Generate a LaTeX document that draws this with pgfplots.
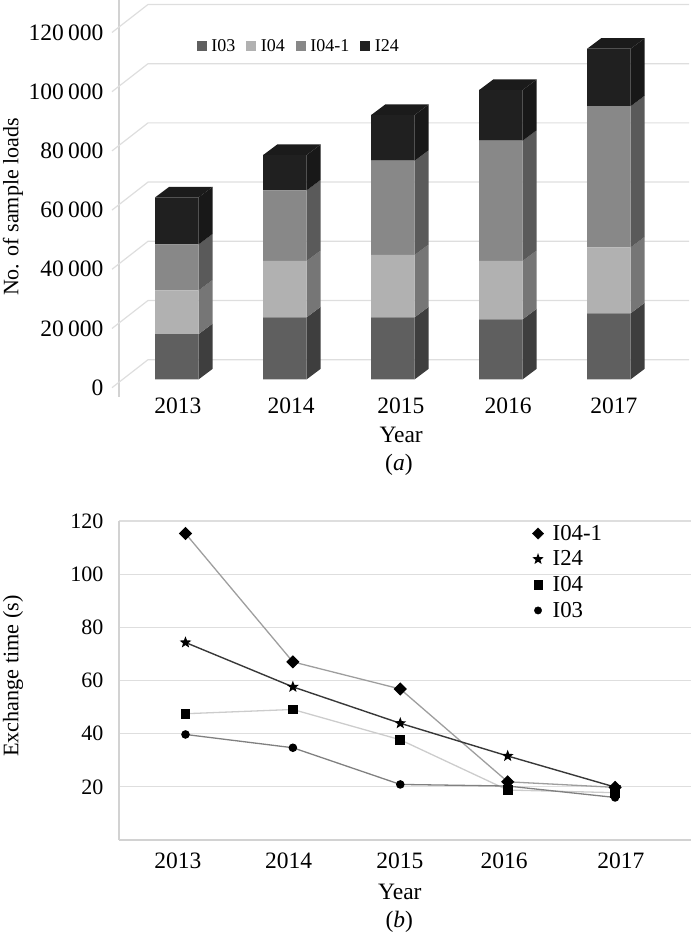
\documentclass[border=0pt]{standalone}
\usepackage{pgfplots}
\pgfplotsset{compat=1.18}
\usepackage{fontspec}
\setmainfont{Liberation Serif}
\usetikzlibrary{plotmarks}
\definecolor{gridc}{HTML}{DEDEDE}
\definecolor{axc}{HTML}{D2D2D2}
\definecolor{fa}{HTML}{5F5F5F}\definecolor{sa}{HTML}{3E3E3E}
\definecolor{fb}{HTML}{B1B1B1}\definecolor{sb}{HTML}{767676}
\definecolor{fc}{HTML}{888888}\definecolor{sc}{HTML}{5A5A5A}
\definecolor{fd}{HTML}{202020}\definecolor{sd}{HTML}{181818}
\definecolor{td}{HTML}{1B1B1B}
\pgfdeclareplotmark{fstar}{%
  \pgfpathmoveto{\pgfpointpolar{90}{\pgfplotmarksize}}%
  \pgfpathlineto{\pgfpointpolar{126}{0.42\pgfplotmarksize}}%
  \pgfpathlineto{\pgfpointpolar{162}{\pgfplotmarksize}}%
  \pgfpathlineto{\pgfpointpolar{198}{0.42\pgfplotmarksize}}%
  \pgfpathlineto{\pgfpointpolar{234}{\pgfplotmarksize}}%
  \pgfpathlineto{\pgfpointpolar{270}{0.42\pgfplotmarksize}}%
  \pgfpathlineto{\pgfpointpolar{306}{\pgfplotmarksize}}%
  \pgfpathlineto{\pgfpointpolar{342}{0.42\pgfplotmarksize}}%
  \pgfpathlineto{\pgfpointpolar{18}{\pgfplotmarksize}}%
  \pgfpathlineto{\pgfpointpolar{54}{0.42\pgfplotmarksize}}%
  \pgfpathclose\pgfusepathqfill}
% one side face: year, lower value, upper value, colour
\newcommand\sideface[4]{%
  \edef\xa{\fpeval{#1+0.2014}}\edef\xb{\fpeval{#1+0.2014+0.1296}}%
  \edef\ya{\fpeval{#2+3547}}\edef\yb{\fpeval{#3+3547}}%
  \addplot[fill=#4,draw=none,forget plot] coordinates {(\xa,#2)(\xa,#3)(\xb,\yb)(\xb,\ya)} -- cycle;}
\newcommand\barfaces[5]{%
  \edef\ca{#2}\edef\cb{\fpeval{#2+#3}}\edef\cc{\fpeval{#2+#3+#4}}\edef\cd{\fpeval{#2+#3+#4+#5}}%
  \sideface{#1}{0}{\ca}{sa}\sideface{#1}{\ca}{\cb}{sb}\sideface{#1}{\cb}{\cc}{sc}\sideface{#1}{\cc}{\cd}{sd}%
  \edef\xl{\fpeval{#1-0.2014}}\edef\xr{\fpeval{#1+0.2014}}%
  \edef\xL{\fpeval{#1-0.2014+0.1296}}\edef\xR{\fpeval{#1+0.2014+0.1296}}\edef\yt{\fpeval{\cd+3547}}%
  \addplot[fill=td,draw=none,forget plot] coordinates {(\xl,\cd)(\xr,\cd)(\xR,\yt)(\xL,\yt)} -- cycle;}
\newcommand\gridrow[1]{%
  \edef\yb{\fpeval{#1+9459}}%
  \addplot[gridc,line width=1.2pt,forget plot] coordinates {(2012.398,#1)(2012.7315,\yb)(2017.741,\yb)};}
\pgfplotsset{
  panel/.style={scale only axis,clip=false},
  hidden/.style={panel,hide axis,at={(119pt,536.3pt)},anchor=south west,width=570pt,height=396.7pt,
    xmin=2012.463,xmax=2017.741,ymin=-5878,ymax=128142},
}
\begin{document}
\begin{tikzpicture}
\path[use as bounding box] (0pt,0pt) rectangle (692pt,933pt);
% panel (a): wall, grid, labels
\begin{axis}[panel,at={(119pt,536.3pt)},anchor=south west,width=570pt,height=396.7pt,
  xmin=2012.463,xmax=2017.741,ymin=-3041,ymax=130980,
  axis x line*=bottom,axis y line*=left,
  x axis line style={draw=none},
  y axis line style={draw=axc,line width=1.3pt,-},
  xtick={2013.009,2014.056,2015.074,2016.065,2017.046},
  xticklabels={2013,2014,2015,2016,2017},
  ytick={0,20000,40000,60000,80000,100000,120000},
  major tick length=0pt,
  scaled y ticks=false,
  /pgf/number format/assume math mode=true,
  /pgf/number format/fixed,
  /pgf/number format/1000 sep={\hspace{0.19em}},
  tick label style={font=\fontsize{23.5}{28}\selectfont},
  yticklabel style={xshift=-12pt},
  xticklabel style={yshift=2pt},
  xlabel={Year},ylabel={No. of sample loads},
  every axis x label/.style={at={(axis description cs:0.495,-0.0965)},anchor=center,font=\fontsize{23.5}{28}\selectfont},
  every axis y label/.style={at={(axis description cs:-0.186,0.478)},rotate=90,anchor=center,font=\fontsize{22}{26}\selectfont},
]
\gridrow{0}\gridrow{20000}\gridrow{40000}\gridrow{60000}\gridrow{80000}\gridrow{100000}\gridrow{120000}
\node[font=\fontsize{23.5}{28}\selectfont] at (axis description cs:0.491,-0.172) {(\textit{a})};
\end{axis}
% panel (a): side and top faces
\begin{axis}[hidden]
\barfaces{2013}{15300}{14770}{15530}{15890}
\barfaces{2014}{20950}{19020}{23880}{11930}
\barfaces{2015}{20950}{21050}{31850}{15440}
\barfaces{2016}{20270}{19700}{40630}{17140}
\barfaces{2017}{22300}{22300}{47700}{19400}
\end{axis}
% panel (a): stacked bars
\begin{axis}[hidden,ybar stacked,bar width=43.5pt,
  legend columns=4,
  legend image code/.code={\path[#1,draw=none] (0pt,-5pt) rectangle (10pt,5pt);},
  legend style={at={(0.131,0.884)},anchor=west,draw=none,fill=none,
    font=\fontsize{18}{22}\selectfont,
    /tikz/every even column/.append style={column sep=9pt},
    /tikz/every odd column/.append style={column sep=2.5pt}},
]
\addplot[fill=fa,draw=none] coordinates {(2013,15300)(2014,20950)(2015,20950)(2016,20270)(2017,22300)};
\addplot[fill=fb,draw=none] coordinates {(2013,14770)(2014,19020)(2015,21050)(2016,19700)(2017,22300)};
\addplot[fill=fc,draw=none] coordinates {(2013,15530)(2014,23880)(2015,31850)(2016,40630)(2017,47700)};
\addplot[fill=fd,draw=none] coordinates {(2013,15890)(2014,11930)(2015,15440)(2016,17140)(2017,19400)};
\legend{I03,I04,I04-1,I24}
\end{axis}
% panel (b)
\begin{axis}[panel,at={(119pt,93pt)},anchor=south west,width=572pt,height=319pt,
  xmin=2012.381,xmax=2017.707,ymin=0,ymax=120,
  axis x line*=bottom,axis y line*=left,
  axis line style={draw=axc,line width=1.3pt,-},
  xtick={2012.93,2013.961,2014.997,2015.966,2017.055},
  xticklabels={2013,2014,2015,2016,2017},
  ytick={20,40,60,80,100,120},
  ymajorgrids,
  grid style={gridc,line width=1.1pt},
  major tick length=0pt,
  /pgf/number format/assume math mode=true,
  xticklabel style={font=\fontsize{23.5}{28}\selectfont,yshift=-9pt},
  yticklabel style={font=\fontsize{22}{26}\selectfont,xshift=-12pt},
  xlabel={Year},ylabel={Exchange time (s)},
  every axis x label/.style={at={(axis description cs:0.491,-0.162)},anchor=center,font=\fontsize{23.5}{28}\selectfont},
  every axis y label/.style={at={(axis description cs:-0.185,0.514)},rotate=90,anchor=center,font=\fontsize{22.2}{26}\selectfont},
  legend style={at={(0.717,1.0)},anchor=north west,draw=none,fill=none,
    font=\fontsize{22.8}{26}\selectfont,cells={anchor=west},row sep=5pt,
    /tikz/every odd column/.append style={column sep=7pt}},
]
\addlegendimage{only marks,mark=square*,mark size=4pt,black,mark options={rotate=45}}
\addlegendentry{I04-1}
\addlegendimage{only marks,mark=fstar,mark size=6pt,black}
\addlegendentry{I24}
\addlegendimage{only marks,mark=square*,mark size=4.2pt,black}
\addlegendentry{I04}
\addlegendimage{only marks,mark=*,mark size=3.7pt,black}
\addlegendentry{I03}
\addplot[color=black!38,line width=1.3pt,mark=square*,mark size=4pt,mark options={black,rotate=45,solid},forget plot]
  coordinates {(2013,115.3)(2014,67.0)(2015,56.8)(2016,21.9)(2017,19.8)};
\addplot[color=black!78,line width=1.4pt,mark=fstar,mark size=6.2pt,mark options={black},forget plot]
  coordinates {(2013,74.3)(2014,57.6)(2015,43.9)(2016,31.6)(2017,19.9)};
\addplot[color=black!20,line width=1.3pt,mark=square*,mark size=4.2pt,mark options={black},forget plot]
  coordinates {(2013,47.5)(2014,49.1)(2015,37.7)(2016,18.8)(2017,17.8)};
\addplot[color=black!50,line width=1.3pt,mark=*,mark size=3.6pt,mark options={black},forget plot]
  coordinates {(2013,39.7)(2014,34.7)(2015,20.9)(2016,20.3)(2017,16.0)};
\node[font=\fontsize{23.5}{28}\selectfont] at (axis description cs:0.49,-0.256) {(\textit{b})};
\end{axis}
\end{tikzpicture}
\end{document}
